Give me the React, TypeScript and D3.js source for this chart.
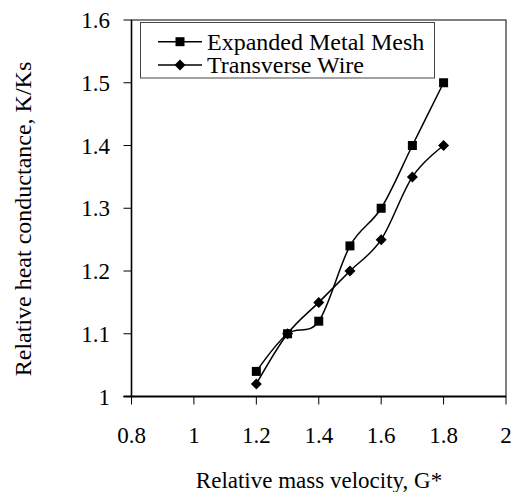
import React from "react";
import * as d3 from "d3";

const xValues = [1.2, 1.3, 1.4, 1.5, 1.6, 1.7, 1.8];
const meshValues = [1.04, 1.1, 1.12, 1.24, 1.3, 1.4, 1.5];
const wireValues = [1.02, 1.1, 1.15, 1.2, 1.25, 1.35, 1.4];
const xTicks = [0.8, 1, 1.2, 1.4, 1.6, 1.8, 2];
const yTicks = [1, 1.1, 1.2, 1.3, 1.4, 1.5, 1.6];
const seriesNames = ["Expanded Metal Mesh", "Transverse Wire"];

const W = 514;
const H = 492;
const FONT = "'Liberation Serif', 'Times New Roman', serif";

export default function App() {
  const x = d3.scaleLinear().domain([0.8, 2]).range([131.5, 506]);
  const y = d3.scaleLinear().domain([1, 1.6]).range([396.5, 20]);
  const line = d3
    .line<number>()
    .x((_, i) => x(xValues[i]))
    .y((d) => y(d))
    .curve(d3.curveCardinal.tension(0));

  const square = (cx: number, cy: number, key: string) => (
    <rect key={key} x={cx - 4.5} y={cy - 4.5} width={9} height={9} fill="#000" />
  );
  const diamond = (cx: number, cy: number, key: string) => (
    <path
      key={key}
      d={`M${cx},${cy - 5.5}L${cx + 5.5},${cy}L${cx},${cy + 5.5}L${cx - 5.5},${cy}Z`}
      fill="#000"
    />
  );

  const fmt = (v: number) => String(v);

  return (
    <svg
      width={W}
      height={H}
      style={{ position: "absolute", left: 0, top: 0, background: "#fff" }}
      fontFamily={FONT}
    >
      <rect x={0} y={0} width={W} height={H} fill="#fff" />
      {/* frame */}
      <rect
        x={x(0.8)}
        y={y(1.6)}
        width={x(2) - x(0.8)}
        height={y(1) - y(1.6)}
        fill="none"
        stroke="#000"
        strokeWidth={1}
      />
      {/* axes */}
      <line x1={x(0.8)} x2={x(0.8)} y1={y(1.6)} y2={y(1)} stroke="#000" strokeWidth={1.6} />
      <line x1={x(0.8) - 8} x2={x(2)} y1={y(1)} y2={y(1)} stroke="#000" strokeWidth={1.8} />
      {yTicks.map((t) => (
        <g key={"yt" + t}>
          <line x1={x(0.8) - 8} x2={x(0.8)} y1={y(t)} y2={y(t)} stroke="#000" strokeWidth={1} />
          <text x={110} y={y(t) + 8} textAnchor="end" fontSize={23} fill="#000">
            {fmt(t)}
          </text>
        </g>
      ))}
      {xTicks.map((t) => (
        <g key={"xt" + t}>
          <line x1={x(t)} x2={x(t)} y1={y(1)} y2={y(1) + 8} stroke="#000" strokeWidth={1} />
          <text x={x(t)} y={443} textAnchor="middle" fontSize={23} fill="#000">
            {fmt(t)}
          </text>
        </g>
      ))}
      <text x={319} y={488} textAnchor="middle" fontSize={23} fill="#000">
        Relative mass velocity, G*
      </text>
      <text
        transform={`translate(31,219) rotate(-90)`}
        textAnchor="middle"
        fontSize={24}
        fill="#000"
      >
        Relative heat conductance, K/Ks
      </text>

      {/* series */}
      <path d={line(meshValues) || ""} fill="none" stroke="#000" strokeWidth={1.5} />
      <path d={line(wireValues) || ""} fill="none" stroke="#000" strokeWidth={1.5} />
      {meshValues.map((v, i) => square(x(xValues[i]), y(v), "m" + i))}
      {wireValues.map((v, i) => diamond(x(xValues[i]), y(v), "w" + i))}

      {/* legend */}
      <rect x={140.5} y={22.5} width={294} height={55.5} fill="#fff" stroke="#444" strokeWidth={1} />
      <line x1={158} x2={202} y1={41.7} y2={41.7} stroke="#000" strokeWidth={1.5} />
      {square(180, 41.7, "lm")}
      <text x={207} y={41.7 + 8} fontSize={24} fill="#000">
        {seriesNames[0]}
      </text>
      <line x1={158} x2={202} y1={65} y2={65} stroke="#000" strokeWidth={1.5} />
      {diamond(180, 65, "lw")}
      <text x={207} y={65 + 8} fontSize={24} fill="#000">
        {seriesNames[1]}
      </text>
    </svg>
  );
}
